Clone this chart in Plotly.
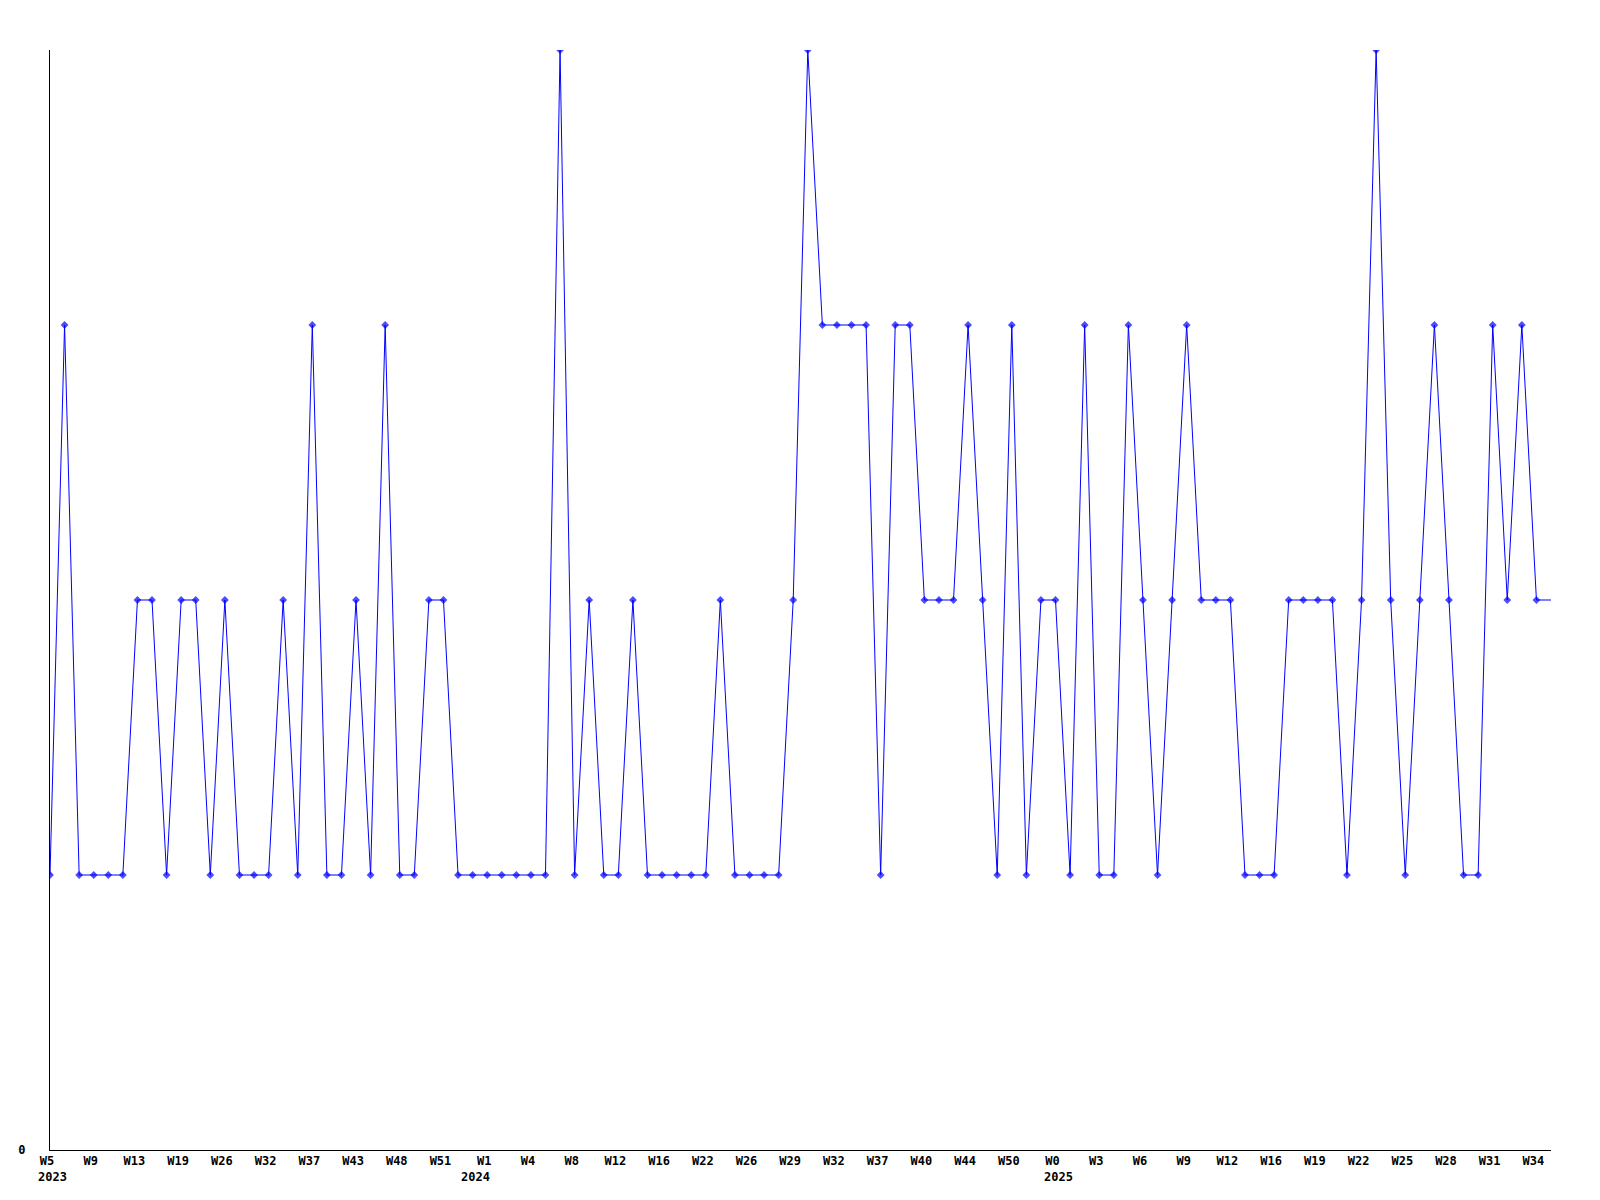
import plotly.graph_objects as go

values = [1, 3, 1, 1, 1, 1, 2, 2, 1, 2, 2, 1, 2, 1, 1, 1, 2, 1, 3, 1,
          1, 2, 1, 3, 1, 1, 2, 2, 1, 1, 1, 1, 1, 1, 1, 4, 1, 2, 1, 1,
          2, 1, 1, 1, 1, 1, 2, 1, 1, 1, 1, 2, 4, 3, 3, 3, 3, 1, 3, 3,
          2, 2, 2, 3, 2, 1, 3, 1, 2, 2, 1, 3, 1, 1, 3, 2, 1, 2, 3, 2,
          2, 2, 1, 1, 1, 2, 2, 2, 2, 1, 2, 4, 2, 1, 2, 3, 2, 1, 1, 3,
          2, 3, 2, 2]

tick_labels = ["W5", "W9", "W13", "W19", "W26", "W32", "W37", "W43", "W48", "W51",
               "W1", "W4", "W8", "W12", "W16", "W22", "W26", "W29", "W32", "W37",
               "W40", "W44", "W50", "W0", "W3", "W6", "W9", "W12", "W16", "W19",
               "W22", "W25", "W28", "W31", "W34"]

year_labels = ["2023", "2024", "2025"]
year_start_index = [0, 29, 69]

x = list(range(len(values)))
tick_vals = [3 * i for i in range(len(tick_labels))]
sizes = [6] * (len(values) - 1) + [0]

fig = go.Figure()
fig.add_trace(go.Scatter(
    x=x, y=values, mode="lines+markers",
    line=dict(color="#0000FF", width=1),
    marker=dict(color="#0000FF", symbol="diamond", size=sizes, line=dict(width=0)),
    hoverinfo="skip",
))

font = dict(family="DejaVu Sans Mono", size=12, color="#000000", weight="bold")

for yl, yi in zip(year_labels, year_start_index):
    fig.add_annotation(
        x=yi, xref="x", y=0, yref="paper", text=yl, showarrow=False,
        xanchor="center", yanchor="middle", xshift=2.5, yshift=-27, font=font,
    )

fig.update_layout(
    width=1584, height=1184,
    margin=dict(l=42, r=41, t=42, b=42, autoexpand=False),
    paper_bgcolor="#FFFFFF", plot_bgcolor="#FFFFFF",
    showlegend=False,
    xaxis=dict(
        range=[0, len(values) - 1], showgrid=False, zeroline=False,
        showline=True, linecolor="#000000", linewidth=1,
        tickmode="array", tickvals=tick_vals, ticktext=tick_labels,
        ticks="", tickfont=font, tickangle=0, ticklabelshift=-3,
        layer="below traces", automargin=False,
    ),
    yaxis=dict(
        range=[0, 4], showgrid=False, zeroline=False,
        showline=True, linecolor="#000000", linewidth=1,
        tickmode="array", tickvals=[0], ticktext=["0"],
        ticks="", tickfont=font, ticklabelstandoff=21,
        layer="below traces", automargin=False,
    ),
)

fig.write_html("out.html")
